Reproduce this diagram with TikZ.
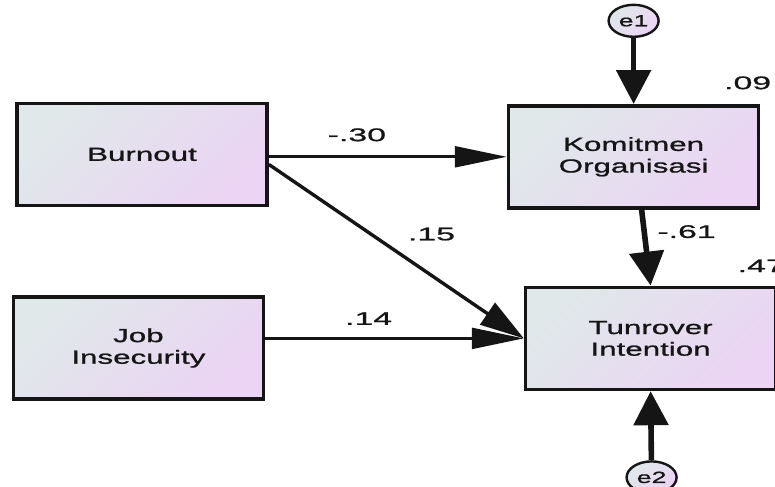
\documentclass[tikz,border=0pt]{standalone}
\usepackage{fontspec}
\usepackage{xcolor}
\usepackage{tikz}
\usetikzlibrary{positioning,arrows.meta,shapes.geometric}
\newfontfamily\boxfont[FakeStretch=1.65, FakeBold=1]{Liberation Sans}
\newfontfamily\valfont[FakeStretch=1.85, FakeBold=1]{Liberation Sans}
\definecolor{ink}{HTML}{151515}
\definecolor{shadeA}{HTML}{E0E8EA}
\definecolor{shadeB}{HTML}{EBD4F4}

\begin{document}
\begin{tikzpicture}[
  % observed variables: wide boxes, shaded from grey-blue to lilac
  var/.style  = {draw=ink, line width=0.9mm, top color=shadeA, bottom color=shadeB,
                 shading angle=45, minimum width=62.5mm, minimum height=25.5mm,
                 align=center, inner sep=0pt, text=ink,
                 font=\boxfont\fontsize{13.5pt}{15.4pt}\selectfont},
  % residual terms
  err/.style  = {ellipse, draw=ink, line width=0.6mm, top color=shadeA,
                 bottom color=shadeB, shading angle=45, minimum width=12.5mm,
                 minimum height=8mm, inner sep=0pt, text=ink,
                 font=\boxfont\fontsize{11.5pt}{13pt}\selectfont},
  % the paths look squashed sideways, so each direction gets its own tip
  flat/.style  = {draw=ink, line width=0.75mm, -{Triangle[length=13mm, width=5.2mm]}},
  slant/.style = {draw=ink, line width=0.85mm, -{Triangle[length=11mm, width=6.5mm]}},
  drop/.style  = {draw=ink, line width=1.4mm, -{Triangle[length=8.5mm, width=8.5mm]}},
  coef/.style  = {font=\valfont\fontsize{13pt}{15pt}\selectfont, text=ink, inner sep=0pt},
]
\useasboundingbox (0,0) rectangle (193.75mm,-121.5mm);

% -------------------------------------------------------------- exogenous --
\node[var] (burn) at (35.5mm,-38.6mm) {Burnout};
\node[var, below=22mm of burn, xshift=-0.9mm] (job) {Job\\Insecurity};

% ------------------------------------------------------------- endogenous --
\node[var, right=59.5mm of burn, yshift=-0.6mm] (kom) {Komitmen\\Organisasi};
\node[var, below=19mm of kom, xshift=4.25mm] (turn) {Tunrover\\Intention};

% -------------------------------------------------------------- residuals --
\node[err, above=16.5mm of kom] (e1) {e1};
\node[err, below=17.25mm of turn, xshift=0.25mm] (e2) {e2};

% ------------------------------------------------------------------ paths --
\draw[flat]  (burn.east |- kom.west) -- node[coef, pos=.37, above=3.5mm] {-.30} (kom.west);
\draw[slant] ([yshift=-2.5mm]burn.east) -- node[coef, pos=.5, above right=2.3mm and 2.5mm] {.15} (turn.west);
\draw[flat]  (job.east |- turn.west) -- node[coef, pos=.4, above=3mm] {.14} (turn.west);
\draw[drop]  ([xshift=2mm]kom.south) -- node[coef, pos=.29, right=2.6mm] {-.61} (turn.north);
\draw[drop]  (e1) -- (kom.north);
\draw[drop]  (e2) -- (turn.south);

% ------------------------------------------------------- squared multiple --
\node[coef, anchor=south east] (r1) at ([xshift=2.75mm, yshift=3.6mm]kom.north east) {.09};
\node[coef, anchor=south west] (r2) at ([xshift=-10mm, yshift=3.3mm]turn.north east) {.47};

\end{tikzpicture}
\end{document}
